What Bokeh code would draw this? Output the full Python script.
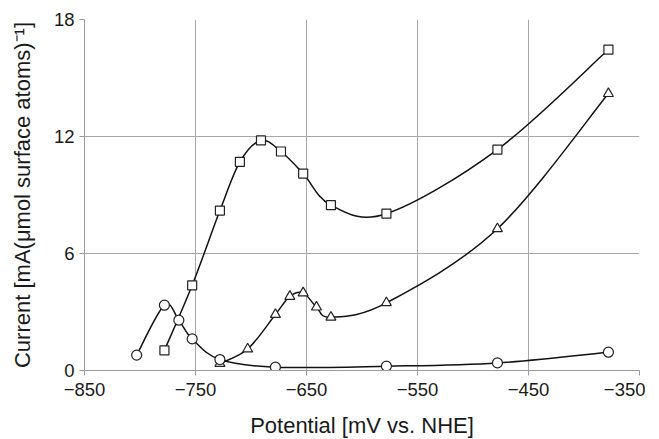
from bokeh.plotting import figure
from bokeh.embed import file_html
from bokeh.resources import INLINE
from bokeh.models import FixedTicker, ColumnDataSource

# Data
sq_x = [-778, -753, -728, -710, -691, -673, -653, -628, -578, -478, -378]
sq_y = [1.03, 4.37, 8.2, 10.7, 11.8, 11.23, 10.1, 8.48, 8.04, 11.33, 16.46]

tri_x = [-728, -703, -678, -665, -653, -641, -628, -578, -478, -378]
tri_y = [0.36, 1.1, 2.87, 3.8, 3.98, 3.25, 2.73, 3.47, 7.27, 14.2]

cir_x = [-803, -778, -765, -753, -728, -678, -578, -478, -378]
cir_y = [0.79, 3.35, 2.58, 1.62, 0.56, 0.17, 0.22, 0.39, 0.94]

x_ticks = [-850, -750, -650, -550, -450, -350]
y_ticks = [0, 6, 12, 18]

FONT = "Liberation Sans"


def smooth_segments(xs, ys):
    """Catmull-Rom style bezier segments (spreadsheet 'smoothed line')."""
    n = len(xs)
    d = dict(x0=[], y0=[], x1=[], y1=[], cx0=[], cy0=[], cx1=[], cy1=[])
    for i in range(n - 1):
        i0 = max(i - 1, 0)
        i3 = min(i + 2, n - 1)
        p0 = (xs[i0], ys[i0])
        p1 = (xs[i], ys[i])
        p2 = (xs[i + 1], ys[i + 1])
        p3 = (xs[i3], ys[i3])
        d["x0"].append(p1[0]); d["y0"].append(p1[1])
        d["x1"].append(p2[0]); d["y1"].append(p2[1])
        d["cx0"].append(p1[0] + (p2[0] - p0[0]) / 6.0)
        d["cy0"].append(p1[1] + (p2[1] - p0[1]) / 6.0)
        d["cx1"].append(p2[0] - (p3[0] - p1[0]) / 6.0)
        d["cy1"].append(p2[1] - (p3[1] - p1[1]) / 6.0)
    return ColumnDataSource(d)


p = figure(frame_width=555, frame_height=351, x_range=(-850, -350), y_range=(0, 18),
           output_backend="svg", toolbar_location=None,
           min_border_left=84, min_border_right=6, min_border_top=19,
           min_border_bottom=5)
p.outline_line_color = None
p.background_fill_color = "white"
p.border_fill_color = "white"

for ax in (p.xaxis[0], p.yaxis[0]):
    ax.axis_line_color = "#9a9a9a"
    ax.major_tick_line_color = "#9a9a9a"
    ax.major_tick_out = 5
    ax.major_tick_in = 0
    ax.minor_tick_line_color = None
    ax.major_label_text_font = FONT
    ax.major_label_text_font_size = "18.5px"
    ax.major_label_text_color = "#1a1a1a"
    ax.axis_label_text_font = FONT
    ax.axis_label_text_font_size = "22px"
    ax.axis_label_text_font_style = "normal"
    ax.axis_label_text_color = "#1a1a1a"

p.xaxis.ticker = FixedTicker(ticks=x_ticks)
p.yaxis.ticker = FixedTicker(ticks=y_ticks)
p.xaxis.major_label_standoff = 7
p.yaxis.major_label_standoff = 5
p.xaxis.axis_label = "Potential [mV vs. NHE]"
p.yaxis.axis_label = "Current [mA(\u03bcmol surface atoms)\u207b\u00b9]"
p.xaxis.axis_label_standoff = 14
p.yaxis.axis_label_standoff = 16

p.xgrid.ticker = FixedTicker(ticks=x_ticks)
p.ygrid.ticker = FixedTicker(ticks=y_ticks)
p.grid.grid_line_color = "#a8a8a8"
p.grid.grid_line_width = 1

for xs, ys in ((sq_x, sq_y), (tri_x, tri_y), (cir_x, cir_y)):
    p.bezier(x0="x0", y0="y0", x1="x1", y1="y1", cx0="cx0", cy0="cy0",
             cx1="cx1", cy1="cy1", source=smooth_segments(xs, ys),
             line_color="#111111", line_width=1.5)

p.scatter(sq_x, sq_y, marker="square", size=9, fill_color="white",
          line_color="#222222", line_width=1.2)
p.scatter(tri_x, tri_y, marker="triangle", size=10, fill_color="white",
          line_color="#222222", line_width=1.2)
p.scatter(cir_x, cir_y, marker="circle", size=10, fill_color="white",
          line_color="#222222", line_width=1.2)

open("out.html", "w").write(file_html(p, INLINE))
